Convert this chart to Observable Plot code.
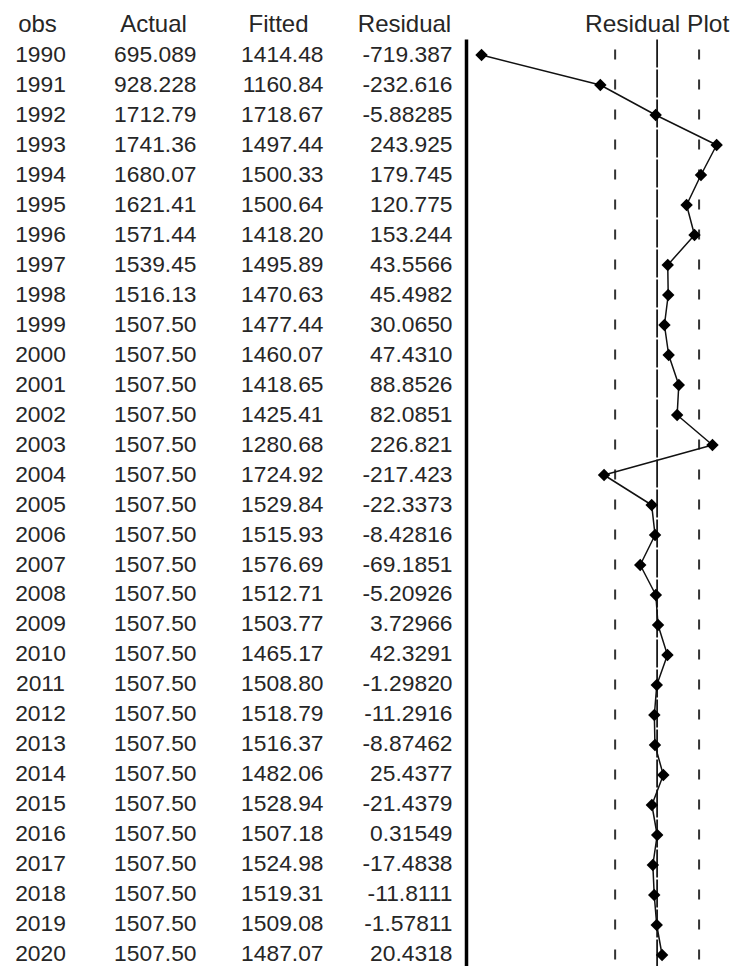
<!DOCTYPE html>
<html>
<head>
<meta charset="utf-8">
<script src="https://cdn.jsdelivr.net/npm/d3@7"></script>
<script src="https://cdn.jsdelivr.net/npm/@observablehq/plot@0.6"></script>
<style>
  html, body { margin: 0; padding: 0; background: #fff; }
  #wrap { position: relative; width: 733px; height: 966px; overflow: hidden; background: #fff; }
  #table, #resplot { position: absolute; top: 0; }
  #table { left: 0; }
  #resplot { left: 460px; }
  svg { overflow: hidden; }
</style>
</head>
<body>
<div id="wrap"><div id="table"></div><div id="resplot"></div></div>
<script>
// ---- data ----
const columns = ["obs", "Actual", "Fitted", "Residual"];
const years = [1990,1991,1992,1993,1994,1995,1996,1997,1998,1999,2000,2001,2002,2003,2004,2005,2006,2007,2008,2009,2010,2011,2012,2013,2014,2015,2016,2017,2018,2019,2020];
const actual = [695.089,928.228,1712.79,1741.36,1680.07,1621.41,1571.44,1539.45,1516.13,1507.50,1507.50,1507.50,1507.50,1507.50,1507.50,1507.50,1507.50,1507.50,1507.50,1507.50,1507.50,1507.50,1507.50,1507.50,1507.50,1507.50,1507.50,1507.50,1507.50,1507.50,1507.50];
const fitted = [1414.48,1160.84,1718.67,1497.44,1500.33,1500.64,1418.20,1495.89,1470.63,1477.44,1460.07,1418.65,1425.41,1280.68,1724.92,1529.84,1515.93,1576.69,1512.71,1503.77,1465.17,1508.80,1518.79,1516.37,1482.06,1528.94,1507.18,1524.98,1519.31,1509.08,1487.07];
const residual = [-719.387,-232.616,-5.88285,243.925,179.745,120.775,153.244,43.5566,45.4982,30.0650,47.4310,88.8526,82.0851,226.821,-217.423,-22.3373,-8.42816,-69.1851,-5.20926,3.72966,42.3291,-1.29820,-11.2916,-8.87462,25.4377,-21.4379,0.31549,-17.4838,-11.8111,-1.57811,20.4318];
const seBands = [-172, 172];          // dashed reference lines (± S.E.)
const residDomain = [-781, 313];      // horizontal extent of the residual plot
const plotTitle = "Residual Plot";

// ---- helpers ----
const fmt = v => {
  let s = Math.abs(v).toPrecision(6);
  if (s.length > 7) s = s.slice(0, 7);
  return (v < 0 ? "-" : "") + s;
};
const rows = years.map((y, i) => ({
  year: String(y), yearNum: y,
  obs: String(y), Actual: fmt(actual[i]), Fitted: fmt(fitted[i]), Residual: fmt(residual[i]),
  resid: residual[i]
}));

const FONT = "'Liberation Sans', Arial, sans-serif";
const TXT = "#262626";
const colStyle = {
  obs:      {valDx: 0,  anchor: "middle", hdrDx: -3},
  Actual:   {valDx: 35, anchor: "end",    hdrDx: -8},
  Fitted:   {valDx: 41, anchor: "end",    hdrDx: -4},
  Residual: {valDx: 49, anchor: "end",    hdrDx: 1}
};

// ---- table ----
const tableMarks = [];
for (const c of columns) {
  const st = colStyle[c];
  tableMarks.push(Plot.text([c], {
    x: d => d, y: () => "hdr", text: d => d,
    textAnchor: "middle", dx: st.hdrDx,
    fontSize: 24, fontFamily: FONT, fill: TXT
  }));
  tableMarks.push(Plot.text(rows, {
    x: () => c, y: "year", text: c,
    textAnchor: st.anchor, dx: st.valDx,
    fontSize: 22.8, fontFamily: FONT, fill: TXT
  }));
}
const table = Plot.plot({
  width: 460, height: 966, margin: 0,
  x: {type: "point", domain: columns, range: [40, 403], padding: 0, axis: null},
  y: {type: "point", domain: ["hdr", ...years.map(String)], range: [24, 953.5], padding: 0, axis: null},
  style: {background: "transparent", fontFamily: FONT},
  marks: tableMarks
});
document.getElementById("table").appendChild(table);

// ---- residual plot ----
const yTop = years[0] - 0.5, yBot = years[years.length - 1] + 0.5;
const resplot = Plot.plot({
  width: 273, height: 966, margin: 0,
  x: {domain: residDomain, range: [6, 273], axis: null},
  y: {domain: [yTop, yBot], range: [39.5, 969.5], axis: null},
  style: {background: "transparent", fontFamily: FONT},
  marks: [
    Plot.ruleX([residDomain[0]], {y1: yTop, y2: yBot, stroke: "#000", strokeWidth: 3.5}),
    Plot.ruleX(seBands, {y1: yTop, y2: yBot, stroke: "#333", strokeWidth: 2, strokeDasharray: "0,10,10,10"}),
    Plot.ruleX([0], {y1: yTop, y2: yBot, stroke: "#1a1a1a", strokeWidth: 1.8, strokeDasharray: "28,2"}),
    Plot.line(rows, {x: "resid", y: "yearNum", stroke: "#111", strokeWidth: 1.5}),
    Plot.dot(rows, {x: "resid", y: "yearNum", symbol: "diamond2", r: 5.6, fill: "#000", stroke: "none"}),
    Plot.text([plotTitle], {x: () => 0, frameAnchor: "top", dy: 24, lineAnchor: "middle", text: d => d,
      textAnchor: "middle", fontSize: 24.5, fontFamily: FONT, fill: TXT})
  ]
});
document.getElementById("resplot").appendChild(resplot);
</script>
</body>
</html>
